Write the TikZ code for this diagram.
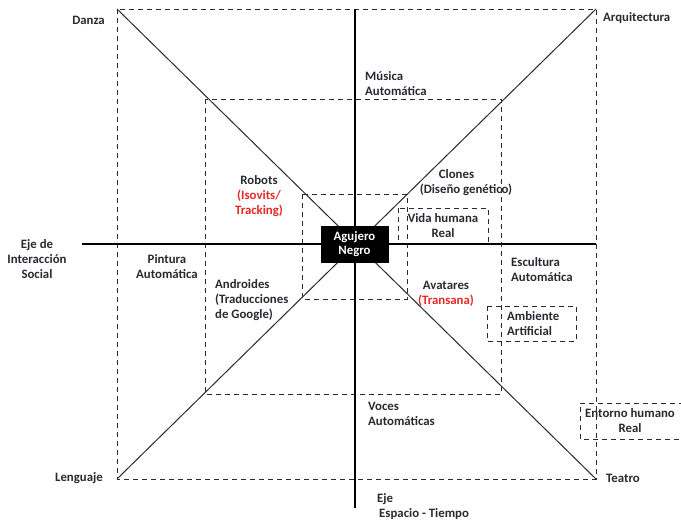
\documentclass[tikz,border=0pt]{standalone}
\usepackage{fontspec}
\setmainfont{Carlito}
\definecolor{ink}{RGB}{40,42,48}
\definecolor{redlbl}{RGB}{228,40,40}
\begin{document}
\begin{tikzpicture}[x=1pt,y=-1pt,
  dbox/.style={draw=ink,line width=0.9pt,dash pattern=on 5pt off 4pt},
  axisline/.style={draw=black,line width=2pt},
  diagline/.style={draw=ink,line width=1pt},
  lbl/.style={font=\fontsize{12.8}{15}\selectfont\bfseries,text=ink,inner sep=0pt,align=center},
  lbll/.style={lbl,align=left,anchor=west},
  hole/.style={fill=black,draw=black,minimum width=67pt,minimum height=36pt,inner sep=0pt,align=center,
    font=\fontsize{12.8}{15}\selectfont\bfseries,text=white}]
\useasboundingbox (0,0) rectangle (681,521);
% corners
\coordinate (tl) at (117,9);
\coordinate (tr) at (596,9);
\coordinate (bl) at (117,479);
\coordinate (br) at (596,479);
\coordinate (mtl) at (205,99);
\coordinate (mbr) at (501,394);
\coordinate (itl) at (302,194);
\coordinate (ibr) at (407,299);
\coordinate (axl) at (82,244);
\coordinate (axr) at (596,244);
\coordinate (axt) at (355,9);
\coordinate (axb) at (355,508);
% dashed squares
\draw[dbox] (tl) rectangle (br);
\draw[dbox] (mtl) rectangle (mbr);
\draw[dbox] (itl) rectangle (ibr);
% small boxes
\draw[dbox] (398,208) rectangle (488,243);
\draw[dbox] (487,306) rectangle (576,341);
\coordinate (e1) at (684,403);
\coordinate (e2) at (580,403);
\coordinate (e3) at (580,439);
\coordinate (e4) at (684,439);
\draw[dbox] (e1) -- (e2) -- (e3) -- (e4);
% diagonals
\draw[diagline] (tl) -- (br);
\draw[diagline] (bl) -- (tr);
% axes
\draw[axisline] (axl) -- (axr);
\draw[axisline] (axt) -- (axb);
% black hole
\node[hole] (hole) at (354.5,244) {Agujero\\[-1pt]Negro};
% labels
\node[lbl,anchor=east] (danza) at (105,20) {Danza};
\node[lbll] (arq) at (603,18) {Arquitectura};
\node[lbl,anchor=east] (leng) at (103,478) {Lenguaje};
\node[lbll] (teatro) at (606,478) {Teatro};
\node[lbll] (musica) at (365,84) {Música\\Automática};
\node[lbl] (robots) at (259,196) {Robots\\{\color{redlbl}(Isovits/}\\{\color{redlbl}Tracking)}};
\node[lbl] (clones) at (466,183) {Clones\hspace*{19pt}\\(Diseño genético)};
\node[lbl] (vida) at (443,225.5) {Vida humana\\Real};
\node[lbl] (eje1) at (37,259) {Eje de\\Interacción\\Social};
\node[lbl] (pintura) at (167,266.5) {Pintura\\Automática};
\node[lbll] (andr) at (215,300.5) {Androides\\(Traducciones\\de Google)};
\node[lbl] (avat) at (446,294) {Avatares\\{\color{redlbl}(Transana)}};
\node[lbll] (escul) at (511,270) {Escultura\\Automática};
\node[lbll] (amb) at (507,323.5) {Ambiente\\Artificial};
\node[lbll] (voces) at (368,413.5) {Voces\\Automáticas};
\node[lbl] (entorno) at (630,421) {Entorno humano\\Real};
\node[lbll] (eje2) at (377,507) {Eje\\\hspace*{2pt}Espacio - Tiempo};
\end{tikzpicture}
\end{document}
